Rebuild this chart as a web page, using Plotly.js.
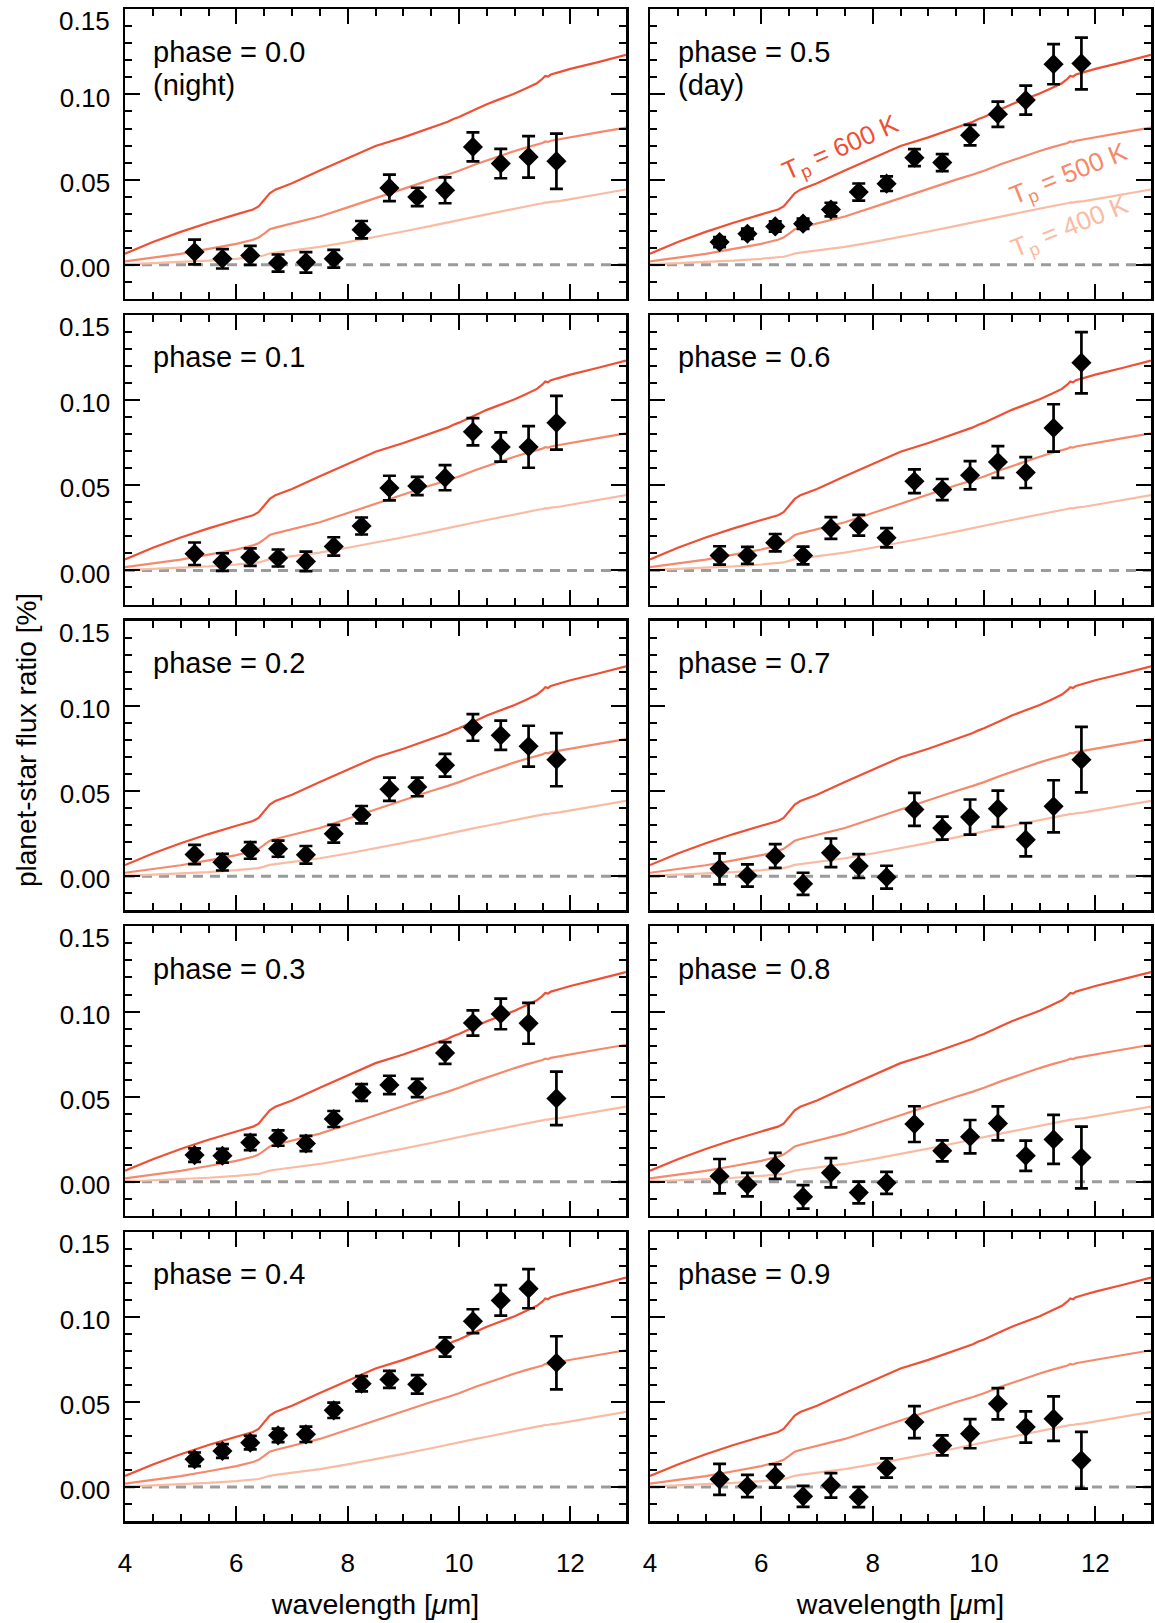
<!DOCTYPE html>
<html>
<head>
<meta charset="utf-8">
<script src="https://cdn.plot.ly/plotly-3.0.1.min.js"></script>
<style>html,body{margin:0;padding:0;background:#fff;} #chart{width:1155px;height:1623px;}</style>
</head>
<body>
<div id="chart"></div>
<script>
// ---------------- data ----------------
const wavelength = [5.25, 5.75, 6.25, 6.75, 7.25, 7.75, 8.25, 8.75, 9.25, 9.75, 10.25, 10.75, 11.25, 11.75];

const phaseLabels = ['0.0', '0.1', '0.2', '0.3', '0.4', '0.5', '0.6', '0.7', '0.8', '0.9'];

const flux_p00 = [0.0075, 0.0035, 0.0055, 0.0010, 0.0014, 0.0035, 0.0206, 0.0451, 0.0398, 0.0437, 0.0692, 0.0594, 0.0633, 0.0608];
const err_p00  = [0.0073, 0.0057, 0.0056, 0.0050, 0.0060, 0.0052, 0.0051, 0.0078, 0.0054, 0.0076, 0.0085, 0.0086, 0.0122, 0.0162];
const flux_p01 = [0.0098, 0.0049, 0.0078, 0.0073, 0.0053, 0.0141, 0.0261, 0.0484, 0.0496, 0.0545, 0.0814, 0.0725, 0.0725, 0.0867];
const err_p01  = [0.0066, 0.0052, 0.0051, 0.0050, 0.0057, 0.0054, 0.0050, 0.0072, 0.0054, 0.0074, 0.0080, 0.0086, 0.0122, 0.0158];
const flux_p02 = [0.0127, 0.0082, 0.0151, 0.0161, 0.0125, 0.0249, 0.0361, 0.0510, 0.0524, 0.0651, 0.0873, 0.0827, 0.0763, 0.0684];
const err_p02  = [0.0057, 0.0049, 0.0049, 0.0047, 0.0052, 0.0052, 0.0051, 0.0068, 0.0055, 0.0067, 0.0078, 0.0086, 0.0120, 0.0156];
const flux_p03 = [0.0157, 0.0153, 0.0231, 0.0257, 0.0225, 0.0369, 0.0525, 0.0569, 0.0551, 0.0757, 0.0933, 0.0986, 0.0931, 0.0490];
const err_p03  = [0.0040, 0.0040, 0.0045, 0.0045, 0.0045, 0.0047, 0.0049, 0.0054, 0.0054, 0.0064, 0.0074, 0.0090, 0.0120, 0.0157];
const flux_p04 = [0.0163, 0.0212, 0.0261, 0.0304, 0.0310, 0.0451, 0.0608, 0.0633, 0.0604, 0.0824, 0.0976, 0.1098, 0.1167, 0.0731];
const err_p04  = [0.0040, 0.0040, 0.0040, 0.0040, 0.0045, 0.0045, 0.0045, 0.0050, 0.0054, 0.0057, 0.0070, 0.0090, 0.0115, 0.0156];
const flux_p05 = [0.0133, 0.0182, 0.0225, 0.0241, 0.0324, 0.0427, 0.0476, 0.0629, 0.0600, 0.0761, 0.0884, 0.0967, 0.1178, 0.1182];
const err_p05  = [0.0030, 0.0030, 0.0030, 0.0030, 0.0040, 0.0050, 0.0043, 0.0050, 0.0050, 0.0060, 0.0074, 0.0085, 0.0118, 0.0152];
const flux_p06 = [0.0088, 0.0088, 0.0163, 0.0088, 0.0249, 0.0265, 0.0192, 0.0524, 0.0475, 0.0559, 0.0637, 0.0575, 0.0837, 0.1220];
const err_p06  = [0.0054, 0.0050, 0.0051, 0.0052, 0.0064, 0.0061, 0.0057, 0.0070, 0.0062, 0.0083, 0.0093, 0.0091, 0.0139, 0.0180];
const flux_p07 = [0.0043, 0.0004, 0.0118, -0.0045, 0.0137, 0.0059, -0.0006, 0.0392, 0.0282, 0.0347, 0.0396, 0.0214, 0.0410, 0.0684];
const err_p07  = [0.0091, 0.0065, 0.0070, 0.0065, 0.0084, 0.0070, 0.0067, 0.0097, 0.0067, 0.0103, 0.0106, 0.0098, 0.0153, 0.0192];
const flux_p08 = [0.0033, -0.0016, 0.0094, -0.0088, 0.0053, -0.0063, -0.0006, 0.0339, 0.0182, 0.0265, 0.0343, 0.0153, 0.0249, 0.0143];
const err_p08  = [0.0101, 0.0069, 0.0076, 0.0069, 0.0086, 0.0064, 0.0065, 0.0105, 0.0062, 0.0098, 0.0100, 0.0089, 0.0144, 0.0181];
const flux_p09 = [0.0045, 0.0006, 0.0065, -0.0055, 0.0010, -0.0059, 0.0112, 0.0382, 0.0245, 0.0314, 0.0490, 0.0353, 0.0402, 0.0157];
const err_p09  = [0.0091, 0.0065, 0.0069, 0.0062, 0.0072, 0.0059, 0.0057, 0.0094, 0.0059, 0.0086, 0.0092, 0.0092, 0.0131, 0.0167];

// blackbody-like model curves (same in every panel)
const model_wl = [4.0, 4.25, 4.5, 5.0, 5.5, 6.0, 6.3, 6.4, 6.5, 6.6, 6.7, 6.8, 7.0, 7.5, 8.0, 8.5, 9.0, 9.5, 9.8, 9.9, 10.0, 10.3, 10.5, 10.7, 10.9, 11.0, 11.2, 11.4, 11.5, 11.55, 11.6, 11.65, 11.8, 12.0, 12.5, 13.0];
const model_600K = [0.0065, 0.0100, 0.0133, 0.0193, 0.0247, 0.0296, 0.0324, 0.0342, 0.0378, 0.0420, 0.0441, 0.0454, 0.0478, 0.0553, 0.0625, 0.0697, 0.0748, 0.0803, 0.0840, 0.0856, 0.0868, 0.0913, 0.0943, 0.0968, 0.0993, 0.1005, 0.1035, 0.1066, 0.1092, 0.1109, 0.1105, 0.1117, 0.1131, 0.1150, 0.1190, 0.1232];
const model_500K = [0.0020, 0.0030, 0.0041, 0.0064, 0.0093, 0.0123, 0.0147, 0.0160, 0.0183, 0.0208, 0.0218, 0.0226, 0.0240, 0.0283, 0.0337, 0.0392, 0.0447, 0.0500, 0.0530, 0.0540, 0.0552, 0.0590, 0.0612, 0.0638, 0.0658, 0.0668, 0.0688, 0.0705, 0.0715, 0.0724, 0.0721, 0.0728, 0.0736, 0.0748, 0.0777, 0.0805];
const model_400K = [0.0002, 0.0005, 0.0008, 0.0015, 0.0024, 0.0035, 0.0043, 0.0047, 0.0056, 0.0066, 0.0071, 0.0075, 0.0083, 0.0105, 0.0133, 0.0163, 0.0195, 0.0228, 0.0250, 0.0257, 0.0264, 0.0283, 0.0296, 0.0310, 0.0323, 0.0329, 0.0342, 0.0355, 0.0361, 0.0366, 0.0365, 0.0369, 0.0374, 0.0385, 0.0412, 0.0442];

const modelLabels = ['T<sub>p</sub> = 600 K', 'T<sub>p</sub> = 500 K', 'T<sub>p</sub> = 400 K'];
const xTickVals = [4, 6, 8, 10, 12];
const yTickVals = [0.00, 0.05, 0.10, 0.15];

// ---------------- figure ----------------
const fluxes = [flux_p00, flux_p01, flux_p02, flux_p03, flux_p04, flux_p05, flux_p06, flux_p07, flux_p08, flux_p09];
const errs = [err_p00, err_p01, err_p02, err_p03, err_p04, err_p05, err_p06, err_p07, err_p08, err_p09];
const models = [model_600K, model_500K, model_400K];
const modelColors = ['#ef5034', '#f5896b', '#f9bba2'];
const FONT = 'Liberation Sans, Arial, Helvetica, sans-serif';

const W = 1155, H = 1623;
const M = {l: 125, r: 4, t: 9, b: 102};
const PW = W - M.l - M.r, PH = H - M.t - M.b;
const colX = [[125, 626], [650, 1151]];
const rowTop0 = 9.3, rowPitch = 305.7, rowH = 289.5;

const traces = [];
const layout = {
  width: W, height: H,
  margin: M,
  paper_bgcolor: '#ffffff', plot_bgcolor: '#ffffff',
  showlegend: false,
  font: {family: FONT, size: 26, color: '#000'},
  annotations: [],
  shapes: []
};

for (let k = 0; k < 10; k++) {
  const col = Math.floor(k / 5), row = k % 5;
  const n = k + 1;
  const xa = 'x' + (n === 1 ? '' : n), ya = 'y' + (n === 1 ? '' : n);
  const xname = 'xaxis' + (n === 1 ? '' : n), yname = 'yaxis' + (n === 1 ? '' : n);
  const top = rowTop0 + rowPitch * row, bot = top + rowH;
  const xd = [(colX[col][0] - M.l) / PW, (colX[col][1] - M.l) / PW];
  const yd = [(H - M.b - bot) / PH, Math.min(1, (H - M.b - top) / PH)];

  layout[xname] = {
    domain: xd, anchor: ya, range: [4, 13],
    tickmode: 'array', tickvals: xTickVals, ticktext: xTickVals.map(String),
    ticks: 'inside', ticklen: 15, tickwidth: 2, tickcolor: '#000',
    minor: {dtick: 0.5, tick0: 4, ticks: 'inside', ticklen: 7, tickwidth: 2, tickcolor: '#000', showgrid: false},
    showline: true, linewidth: 2.5, linecolor: '#000', mirror: 'allticks',
    showgrid: false, zeroline: false,
    showticklabels: row === 4, ticklabelstandoff: 17,
    tickfont: {family: FONT, size: 26, color: '#000'}
  };
  if (row === 4) {
    layout[xname].title = {text: 'wavelength [<i>\u03bc</i>m]', font: {family: FONT, size: 28.5, color: '#000'}, standoff: 18};
  }
  // top label (0.15) is drawn slightly inside the panel, like the original
  layout[yname] = {
    domain: yd, anchor: xa, range: [-0.02, 0.15],
    tickmode: 'array', tickvals: yTickVals,
    ticktext: yTickVals.map(v => (v >= 0.15 ? ' ' : v.toFixed(2))),
    ticks: 'inside', ticklen: 15, tickwidth: 2, tickcolor: '#000',
    minor: {dtick: 0.01, tick0: 0, ticks: 'inside', ticklen: 7, tickwidth: 2, tickcolor: '#000', showgrid: false},
    showline: true, linewidth: 2.5, linecolor: '#000', mirror: 'allticks',
    showgrid: false, zeroline: false,
    showticklabels: col === 0, ticklabelstandoff: 7, ticklabelshift: 3,
    tickfont: {family: FONT, size: 26, color: '#000'}
  };
  if (col === 0) {
    layout.annotations.push({
      xref: xa + ' domain', yref: ya + ' domain', x: 0, y: 1, xanchor: 'right', yanchor: 'middle',
      xshift: -13, yshift: -12, text: yTickVals[3].toFixed(2), showarrow: false,
      font: {family: FONT, size: 26, color: '#000'}
    });
  }

  // zero reference line
  layout.shapes.push({
    type: 'line', xref: xa + ' domain', yref: ya, x0: 0, x1: 1, y0: 0, y1: 0,
    line: {color: '#9b9b9b', width: 3, dash: '10px,7px'}, layer: 'below'
  });

  // model curves (400K drawn first, 600K on top)
  for (let m = 2; m >= 0; m--) {
    traces.push({
      type: 'scatter', mode: 'lines', x: model_wl, y: models[m], xaxis: xa, yaxis: ya,
      line: {color: modelColors[m], width: 2.2}, hoverinfo: 'skip'
    });
  }

  // measurements
  traces.push({
    type: 'scatter', mode: 'markers', x: wavelength, y: fluxes[k], xaxis: xa, yaxis: ya,
    marker: {symbol: 'diamond', size: 15.5, color: '#000'},
    error_y: {type: 'data', array: errs[k], visible: true, color: '#000', thickness: 2.7, width: 6.5},
    cliponaxis: false
  });

  // phase label
  layout.annotations.push({
    xref: xa, yref: ya, x: 4.46, y: 0.1252, xanchor: 'left', yanchor: 'middle',
    text: 'phase = ' + phaseLabels[k], showarrow: false,
    font: {family: FONT, size: 29, color: '#000'}
  });
}

layout.annotations.push({
  xref: 'x', yref: 'y', x: 4.46, y: 0.1058, xanchor: 'left', yanchor: 'middle',
  text: '(night)', showarrow: false, font: {family: FONT, size: 29, color: '#000'}
});
layout.annotations.push({
  xref: 'x6', yref: 'y6', x: 4.46, y: 0.1058, xanchor: 'left', yanchor: 'middle',
  text: '(day)', showarrow: false, font: {family: FONT, size: 29, color: '#000'}
});

// model labels in the phase = 0.5 panel
const modelLabelPos = [[7.43, 0.0680, -24], [11.53, 0.0530, -22], [11.55, 0.0218, -22]];
for (let m = 0; m < 3; m++) {
  layout.annotations.push({
    xref: 'x6', yref: 'y6', x: modelLabelPos[m][0], y: modelLabelPos[m][1],
    xanchor: 'center', yanchor: 'middle', textangle: modelLabelPos[m][2],
    text: modelLabels[m], showarrow: false,
    font: {family: FONT, size: 26, color: modelColors[m]}
  });
}

// shared y-axis title
layout.annotations.push({
  xref: 'paper', yref: 'paper', x: (26 - M.l) / PW, y: (H - M.b - 740) / PH,
  xanchor: 'center', yanchor: 'middle', textangle: -90,
  text: 'planet-star flux ratio [%]', showarrow: false,
  font: {family: FONT, size: 28, color: '#000'}
});

Plotly.newPlot('chart', traces, layout, {staticPlot: true, displayModeBar: false});
</script>
</body>
</html>
